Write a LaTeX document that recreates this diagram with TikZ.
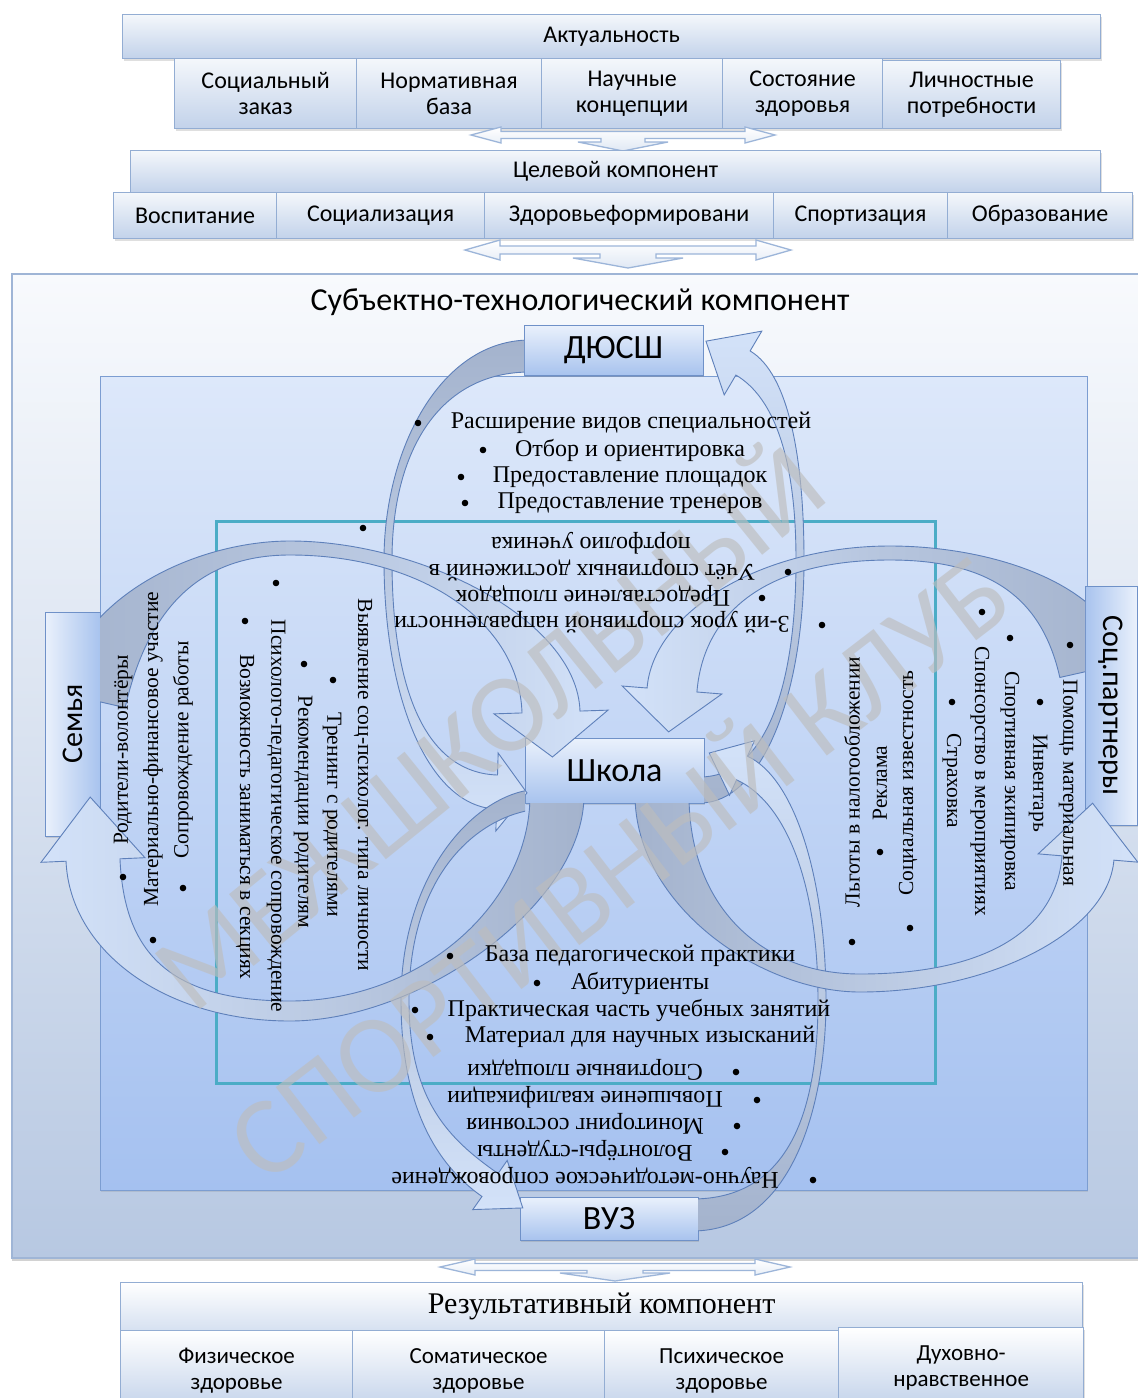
\documentclass[tikz,border=0pt]{standalone}
\usepackage{fontspec}
\setmainfont{Liberation Serif}
\setsansfont{Carlito}
\usetikzlibrary{calc,shadows}
\definecolor{bxline}{HTML}{93ADD3}
\definecolor{bxtop}{HTML}{F4F7FB}
\definecolor{bxbot}{HTML}{C2D2EA}
\definecolor{paneltop}{HTML}{F8FAFD}
\definecolor{panelbot}{HTML}{B7C8E2}
\definecolor{panelline}{HTML}{9FB5D6}
\definecolor{bluetop}{HTML}{DDE8FA}
\definecolor{bluebot}{HTML}{A5C1F0}
\definecolor{blueline}{HTML}{7C9DD1}
\definecolor{tealbx}{HTML}{4BACC6}
\definecolor{ndtop}{HTML}{EAF1FC}
\definecolor{ndbot}{HTML}{A8C3EE}
\definecolor{ndline}{HTML}{6F91C8}
\definecolor{arline}{HTML}{5E80BA}
\definecolor{argrey}{HTML}{A4B3CD}
\definecolor{arlight}{HTML}{D3E2F9}
\definecolor{wmcol}{HTML}{BDBDBD}
\definecolor{tarline}{HTML}{9CB5D9}

\newcommand{\arseg}[7]{%
  \coordinate (#1p0) at #2;
  \coordinate (#1c1) at #3;
  \coordinate (#1c2) at #4;
  \coordinate (#1p3) at #5;
  \coordinate (#1L0) at ($(#1p0)!#6!90:(#1c1)$);
  \coordinate (#1R0) at ($(#1p0)!#6!-90:(#1c1)$);
  \coordinate (#1L1) at ($(#1c1)+(#1L0)-(#1p0)$);
  \coordinate (#1R1) at ($(#1c1)+(#1R0)-(#1p0)$);
  \coordinate (#1L3) at ($(#1p3)!#7!-90:(#1c2)$);
  \coordinate (#1R3) at ($(#1p3)!#7!90:(#1c2)$);
  \coordinate (#1L2) at ($(#1c2)+(#1L3)-(#1p3)$);
  \coordinate (#1R2) at ($(#1c2)+(#1R3)-(#1p3)$);
}
\newcommand{\arhead}[3]{%
  \coordinate (#1HL) at ($(#1p3)!#2!-90:(#1c2)$);
  \coordinate (#1HR) at ($(#1p3)!#2!90:(#1c2)$);
  \coordinate (#1T) at ($(#1p3)!#3!180:(#1c2)$);
}
\newcommand{\arpath}[3]{%
  \path[#3] (#1L0) .. controls (#1L1) and (#1L2) .. (#1L3)
    -- (#2L0) .. controls (#2L1) and (#2L2) .. (#2L3)
    -- (#2HL) -- (#2T) -- (#2HR) -- (#2R3)
    .. controls (#2R2) and (#2R1) .. (#2R0)
    -- (#1R3) .. controls (#1R2) and (#1R1) .. (#1R0) -- cycle;
}
\newcommand{\bul}[1]{\fill #1 circle[radius=3.3pt];}

\begin{document}
\begin{tikzpicture}[x=1pt,y=-1pt]
\tikzset{
  topbox/.style={draw=bxline, line width=1.2pt, top color=bxtop, bottom color=bxbot,
    font=\sffamily\fontsize{24}{26}\selectfont, align=center, inner sep=0pt, anchor=north west,
    drop shadow={shadow xshift=1pt, shadow yshift=-2pt, opacity=0.25}},
  ndbox/.style={draw=ndline, line width=1pt, top color=ndtop, bottom color=ndbot,
    font=\sffamily\fontsize{34}{38}\selectfont, inner sep=0pt,
    drop shadow={shadow xshift=1pt, shadow yshift=-2pt, opacity=0.25}},
  sidebox/.style={ndbox, font=\sffamily\fontsize{30}{34}\selectfont},
  arrowsty/.style={draw=arline, line width=0.9pt},
  lh/.style={font=\fontsize{24}{26}\selectfont, inner sep=0pt},
  lv/.style={font=\fontsize{21.5}{24}\selectfont, inner sep=0pt},
  wm/.style={font=\sffamily\fontsize{112}{112}\selectfont, inner sep=0pt, text=wmcol, opacity=0.65},
  tarr/.style={draw=tarline, line width=1.3pt, top color=white, bottom color=bxtop!60!bxbot},
}
\useasboundingbox (0,0) rectangle (1138,1398);
\fill[white] (0,0) rectangle (1138,1398);

% ---------- top block
\node[topbox, minimum width=978pt, minimum height=44pt] (akt) at (122,14) {Актуальность};
\node[topbox, minimum width=182pt, minimum height=70pt] (r1) at (174,58) {Социальный\\заказ};
\node[topbox, minimum width=185pt, minimum height=70pt] (r2) at (356,58) {Нормативная\\база};
\node[topbox, minimum width=181pt, minimum height=70pt] (r3) at (541,58) {Научные\\концепции};
\node[topbox, minimum width=160pt, minimum height=70pt] (r4) at (722,58) {Состояние\\здоровья};
\node[topbox, minimum width=178pt, minimum height=68pt] (r5) at (882,60) {Личностные\\потребности};

\path[tarr] (471,135) -- (501,127) -- (501,131.5) -- (745,131.5) -- (745,127) -- (775,135)
  -- (745,143) -- (745,138.5) -- (645,138.5) -- (645,142) -- (668,142) -- (623,151)
  -- (578,142) -- (601,142) -- (601,138.5) -- (501,138.5) -- (501,143) -- cycle;

\node[topbox, minimum width=970pt, minimum height=42pt] (cel) at (130,150) {Целевой компонент};
\node[topbox, minimum width=163pt, minimum height=46pt] (c1) at (113,192) {Воспитание};
\node[topbox, minimum width=208pt, minimum height=46pt] (c2) at (276,192) {Социализация};
\node[topbox, minimum width=289pt, minimum height=46pt] (c3) at (484,192) {Здоровьеформировани};
\node[topbox, minimum width=174pt, minimum height=46pt] (c4) at (773,192) {Спортизация};
\node[topbox, minimum width=185pt, minimum height=46pt] (c5) at (947,192) {Образование};

\path[tarr] (465,250) -- (500,240) -- (500,246) -- (756,246) -- (756,240) -- (791,250)
  -- (756,260) -- (756,254) -- (656,254) -- (656,258) -- (683,258) -- (628,268)
  -- (573,258) -- (600,258) -- (600,254) -- (500,254) -- (500,260) -- cycle;

% ---------- main panel
\path[draw=panelline, line width=1.2pt, top color=paneltop, bottom color=panelbot,
  drop shadow={shadow xshift=0pt, shadow yshift=-3pt, opacity=0.35}] (12,274) rectangle (1150,1258);
\node[font=\sffamily\fontsize{32}{36}\selectfont, inner sep=0pt] (subj) at (580,302) {Субъектно-технологический компонент};
\path[draw=blueline, line width=1pt, top color=bluetop, bottom color=bluebot,
  drop shadow={shadow xshift=1pt, shadow yshift=-2pt, opacity=0.2}] (100,376) rectangle (1087,1190);
\draw[tealbx, line width=3pt] (216,521) rectangle (935,1083);

% ---------- actor boxes
\node[ndbox, minimum width=179pt, minimum height=50pt] (dush) at (613.5,350) {ДЮСШ};
\node[ndbox, minimum width=179pt, minimum height=65pt] (shk) at (614.5,770.5) {Школа};
\node[ndbox, minimum width=178pt, minimum height=43pt] (vuz) at (609,1218.5) {ВУЗ};
\node[sidebox, rotate=90, minimum width=224pt, minimum height=55pt, left color=ndtop, right color=ndbot] (sem) at (72.5,724) {Семья};
\node[sidebox, rotate=-90, minimum width=239pt, minimum height=52pt, left color=ndbot, right color=ndtop] (soc) at (1111,705.5) {Соц.партнеры};

% ---------- curved arrows
% ДЮСШ -> Школа (left loop)
\begin{scope}
\clip (0,0) -- (524,0) -- (524,375) -- (1200,375) -- (1200,1398) -- (0,1398) -- cycle;
\arseg{B1}{(530,356)}{(440,356)}{(388,450)}{(388,560)}{16pt}{4pt}
\arseg{B2}{(388,560)}{(388,700)}{(430,790)}{(497,792)}{4pt}{17pt}
\arhead{B2}{39pt}{30pt}
\arpath{B1}{B2}{arrowsty, top color=argrey, bottom color=arlight}
\end{scope}
% Школа -> ВУЗ (left lower loop)
\begin{scope}
\clip (0,0) rectangle (525,1398);
\arseg{E1}{(530,800)}{(470,810)}{(405,880)}{(405,1000)}{10pt}{4pt}
\arseg{E2}{(405,1000)}{(405,1100)}{(440,1150)}{(490,1185)}{4pt}{14pt}
\arhead{E2}{30pt}{40pt}
\arpath{E1}{E2}{arrowsty, top color=argrey, bottom color=arlight}
\end{scope}
% Школа -> ДЮСШ (right loop)
\begin{scope}
\clip (704,0) rectangle (1200,1398);
\arseg{C1}{(700,790)}{(760,790)}{(800,700)}{(800,560)}{13pt}{4pt}
\arseg{C2}{(800,560)}{(800,460)}{(782,386)}{(743,363)}{4pt}{14pt}
\arhead{C2}{37pt}{43pt}
\arpath{C1}{C2}{arrowsty, top color=arlight, bottom color=argrey}
\end{scope}
% ВУЗ -> Школа (right lower loop)
\begin{scope}
\clip (698,0) rectangle (1200,1398);
\arseg{D1}{(692,1215)}{(790,1215)}{(822,1110)}{(822,1000)}{16pt}{4pt}
\arseg{D2}{(822,1000)}{(822,880)}{(790,790)}{(742,768)}{4pt}{13pt}
\arhead{D2}{30pt}{36pt}
\arpath{D1}{D2}{arrowsty, top color=arlight, bottom color=argrey}
\end{scope}
% Школа -> Семья
\begin{scope}
\clip (0,0) -- (525,0) -- (525,803) -- (1200,803) -- (1200,1398) -- (0,1398) -- cycle;
\arseg{F1}{(557,795)}{(557,905)}{(420,1011)}{(290,1011)}{27pt}{10pt}
\arseg{F2}{(290,1011)}{(165,1011)}{(97,950)}{(93,860)}{10pt}{27pt}
\arhead{F2}{52pt}{63pt}
\arpath{F1}{F2}{arrowsty, left color=arlight, right color=argrey, middle color=argrey!50!arlight}
\end{scope}
% Школа -> Соц.партнеры
\begin{scope}
\clip (0,803) -- (704,803) -- (704,0) -- (1200,0) -- (1200,1398) -- (0,1398) -- cycle;
\arseg{H1}{(662,795)}{(662,905)}{(760,983)}{(860,983)}{27pt}{9pt}
\arseg{H2}{(860,983)}{(990,983)}{(1082,930)}{(1088,858)}{9pt}{26pt}
\arhead{H2}{50pt}{55pt}
\arpath{H1}{H2}{arrowsty, left color=argrey, right color=arlight, middle color=argrey!50!arlight}
\end{scope}
% Семья -> Школа
\begin{scope}
\clip (100,0) rectangle (1200,1398);
\arseg{A1}{(92,700)}{(115,600)}{(200,548)}{(290,548)}{34pt}{7pt}
\arseg{A2}{(290,548)}{(420,548)}{(548,620)}{(551,712)}{7pt}{29pt}
\arhead{A2}{57pt}{45pt}
\arpath{A1}{A2}{arrowsty, left color=argrey, right color=arlight, middle color=argrey!60!arlight}
\end{scope}
% Соц.партнеры -> Школа
\begin{scope}
\clip (0,0) rectangle (1085,1398);
\arseg{G1}{(1093,670)}{(1075,590)}{(990,553)}{(890,553)}{34pt}{7pt}
\arseg{G2}{(890,553)}{(760,553)}{(678,615)}{(672,690)}{7pt}{25pt}
\arhead{G2}{50pt}{42pt}
\arpath{G1}{G2}{arrowsty, left color=arlight, right color=argrey, middle color=argrey!60!arlight}
\end{scope}

% ---------- watermark
\node[wm, rotate=39] (wm1) at (485,722) {МЕЖШКОЛЬНЫЙ};
\node[wm, rotate=37.5] (wm2) at (615,862) {СПОРТИВНЫЙ КЛУБ};

% ---------- ДЮСШ list
\node[lh] (d1) at (631,423) {Расширение видов специальностей}; \bul{(418,423)}
\node[lh] (d2) at (630,450) {Отбор и ориентировка}; \bul{(483,450)}
\node[lh] (d3) at (630,477) {Предоставление площадок}; \bul{(461,477)}
\node[lh] (d4) at (630,503) {Предоставление тренеров}; \bul{(465,503)}
% school (upside down)
\node[lh, rotate=180] (s1) at (591,543) {портфолио ученика};
\node[lh, rotate=180] (s2) at (592,570) {Учёт спортивных достижений в}; \bul{(788,572)}
\node[lh, rotate=180] (s3) at (593,596) {Предоставление площадок}; \bul{(762,598)}
\node[lh, rotate=180] (s4) at (592,622) {3-ий урок спортивной направленности}; \bul{(822,625)}
% left middle (school - family)
\node[lv, rotate=-90] (m1) at (363,785) {Выявление соц-психолог. типа личности}; \bul{(363,528)}
\node[lv, rotate=-90] (m2) at (332,815) {Тренинг с родителями}; \bul{(333,680)}
\node[lv, rotate=-90] (m3) at (303,812) {Рекомендации родителям}; \bul{(304,664)}
\node[lv, rotate=-90] (m4) at (276,816) {Психолого-педагогическое сопровождение}; \bul{(276,583)}
\node[lv, rotate=-90] (m5) at (245,817) {Возможность заниматься в секциях}; \bul{(245,621)}
% family
\node[lv, rotate=90] (f1) at (123,750) {Родители-волонтёры}; \bul{(123,877)}
\node[lv, rotate=90] (f2) at (153,749) {Материально-финансовое участие}; \bul{(153,940)}
\node[lv, rotate=90] (f3) at (183,750) {Сопровождение работы}; \bul{(183,888)}
% school - partners
\node[lv, rotate=90] (p1) at (852,782) {Льготы в налогообложении}; \bul{(852,942)}
\node[lv, rotate=90] (p2) at (880,783) {Реклама}; \bul{(880,852)}
\node[lv, rotate=90] (p3) at (908,783) {Социальная известность}; \bul{(910,928)}
% partners
\node[lv, rotate=-90] (q1) at (1068,783) {Помощь материальная}; \bul{(1070,645)}
\node[lv, rotate=-90] (q2) at (1038,783) {Инвентарь}; \bul{(1040,702)}
\node[lv, rotate=-90] (q3) at (1010,781) {Спортивная экипировка}; \bul{(1010,638)}
\node[lv, rotate=-90] (q4) at (980,781) {Спонсорство в мероприятиях}; \bul{(982,612)}
\node[lv, rotate=-90] (q5) at (952,781) {Страховка}; \bul{(952,702)}
% university - school
\node[lh] (u1) at (640,956) {База педагогической практики}; \bul{(450,956)}
\node[lh] (u2) at (640,983) {Абитуриенты}; \bul{(537,983)}
\node[lh] (u3) at (639,1010) {Практическая часть учебных занятий}; \bul{(415,1010)}
\node[lh] (u4) at (640,1037) {Материал для научных изысканий}; \bul{(430,1037)}
\node[lh, rotate=180] (v1) at (585,1070) {Спортивные площадки}; \bul{(736,1072)}
\node[lh, rotate=180] (v2) at (585,1097) {Повышение квалификации}; \bul{(757,1100)}
\node[lh, rotate=180] (v3) at (585,1124) {Мониторинг состояния}; \bul{(737,1126)}
\node[lh, rotate=180] (v4) at (585,1151) {Волонтёры-студенты}; \bul{(725,1152)}
\node[lh, rotate=180] (v5) at (585,1178) {Научно-методическое сопровождение}; \bul{(813,1180)}

% ---------- bottom block
\path[tarr] (440,1267) -- (475,1259) -- (475,1263.5) -- (755,1263.5) -- (755,1259) -- (790,1267)
  -- (755,1275) -- (755,1270.5) -- (643,1270.5) -- (643,1273) -- (670,1273) -- (615,1281)
  -- (560,1273) -- (587,1273) -- (587,1270.5) -- (475,1270.5) -- (475,1275) -- cycle;
\node[topbox, top color=white, bottom color=bxtop!40!bxbot, font=\rmfamily\fontsize{30}{32}\selectfont,
  minimum width=962pt, minimum height=48pt] (res) at (120,1282) {Результативный компонент};
\node[topbox, top color=white, bottom color=bxbot, font=\sffamily\fontsize{23}{26}\selectfont,
  minimum width=232pt, minimum height=80pt] (b1) at (120,1330) {Физическое\\здоровье};
\node[topbox, top color=white, bottom color=bxbot, font=\sffamily\fontsize{23}{26}\selectfont,
  minimum width=252pt, minimum height=80pt] (b2) at (352,1330) {Соматическое\\здоровье};
\node[topbox, top color=white, bottom color=bxbot, font=\sffamily\fontsize{23}{26}\selectfont,
  minimum width=234pt, minimum height=80pt] (b3) at (604,1330) {Психическое\\здоровье};
\node[topbox, top color=white, bottom color=bxbot, font=\sffamily\fontsize{23}{26}\selectfont,
  minimum width=245pt, minimum height=80pt] (b4) at (838,1327) {Духовно-\\нравственное};
\end{tikzpicture}
\end{document}
